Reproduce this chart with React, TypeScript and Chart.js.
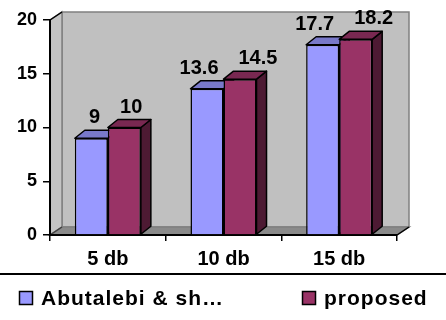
import { useEffect, useRef } from "react";
import { Chart, registerables } from "chart.js";

Chart.register(...registerables);

// ---- data ----
const categories = ["5 db", "10 db", "15 db"];
const seriesNames = ["Abutalebi & sh…", "proposed"];
const abutalebiValues = [9, 13.6, 17.7];
const proposedValues = [10, 14.5, 18.2];
const yTickValues = [0, 5, 10, 15, 20];

// ---- style ----
const FONT = "'Liberation Sans', Arial, sans-serif";
const frontColors = ["#9999FF", "#993366"];
const BAR_DX = 10;
const BAR_DY = -8;
const WALL_DX = 12;
const WALL_DY = -8;
const LABEL_GAP = 20;

function shade(hex: string, f: number): string {
  const n = parseInt(hex.slice(1), 16);
  const r = Math.round(((n >> 16) & 255) * f);
  const g = Math.round(((n >> 8) & 255) * f);
  const b = Math.round((n & 255) * f);
  return `rgb(${r},${g},${b})`;
}

function poly(
  ctx: CanvasRenderingContext2D,
  pts: number[][],
  fill: string | null,
  stroke: string | null,
  lw = 1
) {
  ctx.beginPath();
  ctx.moveTo(pts[0][0], pts[0][1]);
  for (let i = 1; i < pts.length; i++) ctx.lineTo(pts[i][0], pts[i][1]);
  ctx.closePath();
  if (fill) {
    ctx.fillStyle = fill;
    ctx.fill();
  }
  if (stroke) {
    ctx.strokeStyle = stroke;
    ctx.lineWidth = lw;
    ctx.stroke();
  }
}

function line(ctx: CanvasRenderingContext2D, x1: number, y1: number, x2: number, y2: number, color: string, lw = 1) {
  ctx.beginPath();
  ctx.moveTo(x1, y1);
  ctx.lineTo(x2, y2);
  ctx.strokeStyle = color;
  ctx.lineWidth = lw;
  ctx.stroke();
}

// back wall, side wall and floor of the 3-D box
const wallsPlugin = {
  id: "walls",
  beforeDraw(chart: any) {
    const { ctx, width, height } = chart;
    const { left, right, top, bottom } = chart.chartArea;
    ctx.save();
    ctx.fillStyle = "#ffffff";
    ctx.fillRect(0, 0, width, height);
    ctx.lineJoin = "miter";
    poly(
      ctx,
      [
        [left + WALL_DX, top + WALL_DY],
        [right + WALL_DX, top + WALL_DY],
        [right + WALL_DX, bottom + WALL_DY],
        [left + WALL_DX, bottom + WALL_DY],
      ],
      "#C0C0C0",
      "#808080",
      1.5
    );
    poly(
      ctx,
      [
        [left, top],
        [left + WALL_DX, top + WALL_DY],
        [left + WALL_DX, bottom + WALL_DY],
        [left, bottom],
      ],
      "#C4C4C4",
      "#808080",
      1.5
    );
    poly(
      ctx,
      [
        [left, bottom],
        [left + WALL_DX, bottom + WALL_DY],
        [right + WALL_DX, bottom + WALL_DY],
        [right, bottom],
      ],
      "#8A8A8A",
      "#808080",
      1.5
    );
    line(ctx, left, top, left + WALL_DX, top + WALL_DY, "#000", 1.5);
    line(ctx, right, bottom, right + WALL_DX, bottom + WALL_DY, "#000", 1.5);
    line(ctx, left, bottom, left + WALL_DX, bottom + WALL_DY, "#404040", 1.5);
    ctx.restore();
  },
};

// top and side faces of every column; the front faces are drawn by Chart.js
const boxFacesPlugin = {
  id: "boxFaces",
  beforeDatasetsDraw(chart: any) {
    const { ctx } = chart;
    ctx.save();
    ctx.lineJoin = "round";
    const n = chart.data.labels.length;
    for (let j = 0; j < n; j++) {
      chart.data.datasets.forEach((ds: any, i: number) => {
        const bar = chart.getDatasetMeta(i).data[j];
        const { x, y, base, width } = bar.getProps(["x", "y", "base", "width"], true);
        const xl = x - width / 2;
        const xr = x + width / 2;
        const col = frontColors[i];
        poly(
          ctx,
          [
            [xr, y],
            [xr + BAR_DX, y + BAR_DY],
            [xr + BAR_DX, base + BAR_DY],
            [xr, base],
          ],
          shade(col, 0.5),
          "#000",
          1.5
        );
        poly(
          ctx,
          [
            [xl, y],
            [xl + BAR_DX, y + BAR_DY],
            [xr + BAR_DX, y + BAR_DY],
            [xr, y],
          ],
          shade(col, 0.79),
          "#000",
          1.5
        );
      });
    }
    ctx.restore();
  },
};

// numbers above the columns
const valueLabelsPlugin = {
  id: "valueLabels",
  afterDatasetsDraw(chart: any) {
    const { ctx } = chart;
    ctx.save();
    ctx.font = `bold 20px ${FONT}`;
    ctx.fillStyle = "#000";
    ctx.textAlign = "center";
    ctx.textBaseline = "alphabetic";
    const n = chart.data.labels.length;
    for (let j = 0; j < n; j++) {
      const items = chart.data.datasets.map((ds: any, i: number) => {
        const bar = chart.getDatasetMeta(i).data[j];
        const text = String(ds.data[j]);
        return {
          text,
          x: bar.x + BAR_DX / 2,
          y: bar.y - 15,
          w: ctx.measureText(text).width,
        };
      });
      for (let k = 1; k < items.length; k++) {
        const a = items[k - 1];
        const b = items[k];
        const overlap = a.x + a.w / 2 + LABEL_GAP - (b.x - b.w / 2);
        if (overlap > 0) {
          a.x -= overlap / 2;
          b.x += overlap / 2;
        }
      }
      items.forEach((it: any) => ctx.fillText(it.text, it.x, it.y));
    }
    ctx.restore();
  },
};

// separator rule and legend under the axis
const legendPlugin = {
  id: "bottomLegend",
  afterDraw(chart: any) {
    const { ctx, width } = chart;
    ctx.save();
    ctx.fillStyle = "#000";
    ctx.fillRect(0, 273, width, 2);
    ctx.font = `bold 21px ${FONT}`;
    (ctx as any).letterSpacing = "1px";
    ctx.textBaseline = "alphabetic";
    ctx.textAlign = "left";
    const box = 13;
    const boxGap = 9;
    const itemGap = 78;
    const widths = chart.data.datasets.map((ds: any) => ctx.measureText(ds.label).width);
    const total =
      widths.reduce((s: number, w: number) => s + w + box + boxGap, 0) + itemGap * (widths.length - 1);
    let x = Math.round((width - total) / 2);
    const baseline = 305;
    chart.data.datasets.forEach((ds: any, i: number) => {
      ctx.fillStyle = frontColors[i];
      ctx.fillRect(x + 0.5, baseline - 13.5, box, box);
      ctx.strokeStyle = "#000";
      ctx.lineWidth = 1.5;
      ctx.strokeRect(x + 0.5, baseline - 13.5, box, box);
      ctx.fillStyle = "#000";
      ctx.fillText(ds.label, x + box + boxGap, baseline);
      x += box + boxGap + widths[i] + itemGap;
    });
    ctx.restore();
  },
};

export default function App() {
  const canvasRef = useRef<HTMLCanvasElement | null>(null);

  useEffect(() => {
    const canvas = canvasRef.current;
    if (!canvas) return;
    const chart = new Chart(canvas, {
      type: "bar",
      data: {
        labels: categories,
        datasets: [
          {
            label: seriesNames[0],
            data: abutalebiValues,
            backgroundColor: frontColors[0],
            borderColor: "#000",
            borderWidth: 1.5,
          },
          {
            label: seriesNames[1],
            data: proposedValues,
            backgroundColor: frontColors[1],
            borderColor: "#000",
            borderWidth: 1.5,
          },
        ],
      },
      options: {
        responsive: false,
        devicePixelRatio: 1,
        animation: false,
        events: [],
        layout: { padding: { top: 20, right: 49, bottom: 45, left: 0 } },
        datasets: {
          bar: { categoryPercentage: 0.571, barPercentage: 1 },
        },
        plugins: {
          legend: { display: false },
          tooltip: { enabled: false },
        },
        scales: {
          x: {
            type: "category",
            offset: true,
            grid: {
              offset: true,
              drawOnChartArea: false,
              drawTicks: true,
              tickLength: 6,
              tickColor: "#000",
              lineWidth: 1.5,
            },
            border: { display: true, color: "#000", width: 2 },
            ticks: {
              color: "#000",
              font: { family: FONT, size: 20, weight: "bold" },
              padding: 6,
              maxRotation: 0,
            },
            afterFit(scale: any) {
              scale.height = 40;
            },
          },
          y: {
            type: "linear",
            min: yTickValues[0],
            max: yTickValues[yTickValues.length - 1],
            afterBuildTicks(scale: any) {
              scale.ticks = yTickValues.map((v) => ({ value: v }));
            },
            grid: {
              drawOnChartArea: false,
              drawTicks: true,
              tickLength: 7,
              tickColor: "#000",
              lineWidth: 1.5,
            },
            border: { display: true, color: "#000", width: 2 },
            ticks: {
              color: "#000",
              font: { family: FONT, size: 18, weight: "bold" },
              padding: 6,
            },
            afterFit(scale: any) {
              scale.width = 50;
            },
          },
        },
      },
      plugins: [wallsPlugin, boxFacesPlugin, valueLabelsPlugin, legendPlugin],
    } as any);
    return () => chart.destroy();
  }, []);

  return (
    <div
      style={{
        position: "fixed",
        left: 0,
        top: 0,
        width: 446,
        height: 320,
        background: "#ffffff",
      }}
    >
      <canvas ref={canvasRef} width={446} height={320} style={{ display: "block" }} />
    </div>
  );
}
